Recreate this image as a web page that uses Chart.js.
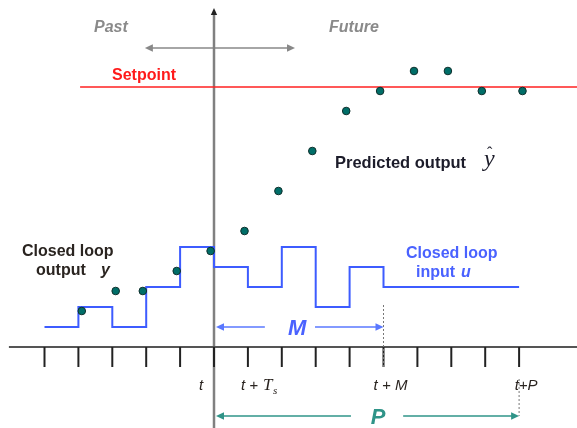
<!DOCTYPE html>
<html>
<head>
<meta charset="utf-8">
<script src="https://cdn.jsdelivr.net/npm/chart.js@4.4.1/dist/chart.umd.min.js"></script>
<style>
  body { margin: 0; background: #fff; }
  #wrap { width: 577px; height: 428px; }
</style>
</head>
<body>
<div id="wrap"><canvas id="mpc" width="577" height="428"></canvas></div>
<script>
// time steps (in sample periods, t = 0)
var tickSteps = [-5, -4, -3, -2, -1, 0, 1, 2, 3, 4, 5, 6, 7, 8, 9];
var tickLabels = ['t', 't +T', 't + M', 't+P'];
var tickLabelSteps = [0, 1, 5, 9];

// closed loop input u (step changes)
var inputSteps = [-5, -4, -3, -2, -1, 0, 1, 2, 3, 4, 5, 9];
var inputLevels = [1, 2, 1, 3, 5, 4, 3, 5, 2, 4, 3, 3];

// closed loop output y (past) and predicted output (future)
var outputSteps = [-3.9, -2.9, -2.1, -1.1, -0.1, 0.9, 1.9, 2.9, 3.9, 4.9, 5.9, 6.9, 7.9, 9.1];
var outputValues = [1.8, 2.8, 2.8, 3.8, 4.8, 5.8, 7.8, 9.8, 11.8, 12.8, 13.8, 13.8, 12.8, 12.8];

var setpointValue = 13;
var controlHorizon = 5;   // M
var predictionHorizon = 9; // P

function pairs (xs, ys) {
  var out = [];
  for (let i = 0; i < xs.length; i++) {
    out.push({ x: xs[i], y: ys[i] });
  }
  return out;
}

function arrowHead (ctx, x, y, dir, size, color) {
  ctx.fillStyle = color;
  ctx.beginPath();
  if (dir === 'left') {
    ctx.moveTo(x, y); ctx.lineTo(x + size, y - size / 2.2); ctx.lineTo(x + size, y + size / 2.2);
  } else if (dir === 'right') {
    ctx.moveTo(x, y); ctx.lineTo(x - size, y - size / 2.2); ctx.lineTo(x - size, y + size / 2.2);
  } else {
    ctx.moveTo(x, y); ctx.lineTo(x - size / 2.2, y + size); ctx.lineTo(x + size / 2.2, y + size);
  }
  ctx.closePath();
  ctx.fill();
}

var extras = {
  id: 'extras',
  afterDatasetsDraw: function (chart) {
    const ctx = chart.ctx;
    const xs = chart.scales.x;
    const ys = chart.scales.y;
    const px = function (v) { return xs.getPixelForValue(v); };
    const py = function (v) { return ys.getPixelForValue(v); };
    ctx.save();

    // tick marks
    ctx.strokeStyle = '#222';
    ctx.lineWidth = 2;
    for (let i = 0; i < tickSteps.length; i++) {
      ctx.beginPath();
      ctx.moveTo(px(tickSteps[i]), py(0));
      ctx.lineTo(px(tickSteps[i]), py(-1));
      ctx.stroke();
    }

    // dashed guides at t+M and t+P
    ctx.setLineDash([2, 2]);
    ctx.strokeStyle = '#777';
    ctx.lineWidth = 1;
    ctx.beginPath();
    ctx.moveTo(px(controlHorizon), py(2.1)); ctx.lineTo(px(controlHorizon), py(-1.05));
    ctx.moveTo(px(predictionHorizon), py(-1.6)); ctx.lineTo(px(predictionHorizon), py(-3.45));
    ctx.stroke();
    ctx.setLineDash([]);

    // arrow heads
    arrowHead(ctx, px(0), 8, 'up', 7, '#222');
    arrowHead(ctx, px(-2.04), py(14.95), 'left', 8, '#888');
    arrowHead(ctx, px(2.39), py(14.95), 'right', 8, '#888');
    arrowHead(ctx, px(0) + 2, py(1), 'left', 8, '#5a78ff');
    arrowHead(ctx, px(controlHorizon), py(1), 'right', 8, '#5a78ff');
    arrowHead(ctx, px(0) + 2, py(-3.45), 'left', 8, '#2f9488');
    arrowHead(ctx, px(predictionHorizon), py(-3.45), 'right', 8, '#2f9488');

    // texts
    ctx.textBaseline = 'alphabetic';
    ctx.textAlign = 'left';
    ctx.fillStyle = '#8a8a8a';
    ctx.font = 'italic bold 16px "Liberation Sans"';
    ctx.fillText('Past', 94, 32);
    ctx.fillText('Future', 329, 32);

    ctx.fillStyle = '#ff1a1a';
    ctx.font = 'bold 16px "Liberation Sans"';
    ctx.fillText('Setpoint', 112, 80);

    ctx.fillStyle = '#1c1c2a';
    ctx.font = 'bold 16.5px "Liberation Sans"';
    ctx.fillText('Predicted output', 335, 168);
    ctx.font = 'italic 24px "Liberation Serif"';
    ctx.fillText('y', 484, 166);
    ctx.font = '16px "Liberation Serif"';
    ctx.fillText('\u02c6', 487, 158);

    ctx.fillStyle = '#2a2420';
    ctx.font = 'bold 16px "Liberation Sans"';
    ctx.fillText('Closed loop', 22, 256);
    ctx.fillText('output', 36, 275);
    ctx.font = 'italic bold 16px "Liberation Sans"';
    ctx.fillText('y', 101, 275);

    ctx.fillStyle = '#4a62ff';
    ctx.font = 'bold 16px "Liberation Sans"';
    ctx.fillText('Closed loop', 406, 258);
    ctx.fillText('input', 416, 277);
    ctx.font = 'italic bold 16px "Liberation Sans"';
    ctx.fillText('u', 461, 277);

    ctx.fillStyle = '#4a62ff';
    ctx.font = 'italic bold 22px "Liberation Sans"';
    ctx.textAlign = 'center';
    ctx.fillText('M', px(2.45), py(1) + 8);
    ctx.fillStyle = '#2f9488';
    ctx.fillText('P', px(4.84), py(-3.45) + 8);

    // tick labels
    ctx.fillStyle = '#2a2420';
    ctx.font = 'italic 15px "Liberation Sans"';
    ctx.textAlign = 'center';
    ctx.fillText(tickLabels[0], px(tickLabelSteps[0]) - 13, 390);
    ctx.textAlign = 'left';
    ctx.fillText('t +', px(tickLabelSteps[1]) - 7, 390);
    ctx.font = 'italic 17px "Liberation Serif"';
    ctx.fillText('T', px(tickLabelSteps[1]) + 15, 390);
    ctx.font = 'italic 11px "Liberation Serif"';
    ctx.fillText('s', px(tickLabelSteps[1]) + 25, 394);
    ctx.font = 'italic 15px "Liberation Sans"';
    ctx.textAlign = 'center';
    ctx.fillText(tickLabels[2], px(tickLabelSteps[2]) + 7, 390);
    ctx.fillText(tickLabels[3], px(tickLabelSteps[3]) + 7, 390);

    ctx.restore();
  }
};

var lineDefaults = { showLine: true, pointRadius: 0, fill: false, tension: 0 };

new Chart(document.getElementById('mpc'), {
  type: 'scatter',
  data: {
    datasets: [
      {
        label: 'Output',
        data: pairs(outputSteps, outputValues),
        pointRadius: 3.8,
        pointBackgroundColor: '#006e68',
        pointBorderColor: '#0f2f2c',
        pointBorderWidth: 1,
        showLine: false,
        order: 0
      },
      Object.assign({
        label: 'Input',
        data: pairs(inputSteps, inputLevels),
        stepped: true,
        borderColor: '#3d5cff',
        borderWidth: 2,
        order: 1
      }, lineDefaults),
      Object.assign({
        label: 'Setpoint',
        data: [{ x: -3.95, y: setpointValue }, { x: 10.8, y: setpointValue }],
        borderColor: '#ff2020',
        borderWidth: 1.6,
        order: 2
      }, lineDefaults),
      Object.assign({
        label: 'Time axis',
        data: [{ x: -6.05, y: 0 }, { x: 10.8, y: 0 }],
        borderColor: '#555',
        borderWidth: 2,
        order: 3
      }, lineDefaults),
      Object.assign({
        label: 'Now',
        data: [{ x: 0, y: 16.7 }, { x: 0, y: -4.1 }],
        borderColor: '#808080',
        borderWidth: 2.5,
        order: 4
      }, lineDefaults),
      Object.assign({
        label: 'Past/Future',
        data: [{ x: -1.9, y: 14.95 }, { x: 2.25, y: 14.95 }],
        borderColor: '#888',
        borderWidth: 1.5,
        order: 5
      }, lineDefaults),
      Object.assign({
        label: 'M left',
        data: [{ x: 0.2, y: 1 }, { x: 1.5, y: 1 }],
        borderColor: '#5a78ff',
        borderWidth: 1.3,
        order: 6
      }, lineDefaults),
      Object.assign({
        label: 'M right',
        data: [{ x: 2.98, y: 1 }, { x: 4.85, y: 1 }],
        borderColor: '#5a78ff',
        borderWidth: 1.3,
        order: 7
      }, lineDefaults),
      Object.assign({
        label: 'P left',
        data: [{ x: 0.2, y: -3.45 }, { x: 4.04, y: -3.45 }],
        borderColor: '#2f9488',
        borderWidth: 1.3,
        order: 8
      }, lineDefaults),
      Object.assign({
        label: 'P right',
        data: [{ x: 5.58, y: -3.45 }, { x: 8.85, y: -3.45 }],
        borderColor: '#2f9488',
        borderWidth: 1.3,
        order: 9
      }, lineDefaults)
    ]
  },
  options: {
    responsive: false,
    animation: false,
    layout: { padding: 0, autoPadding: false },
    plugins: { legend: { display: false }, tooltip: { enabled: false } },
    scales: {
      x: { type: 'linear', display: false, min: -214 / 33.9, max: (577 - 214) / 33.9 },
      y: { type: 'linear', display: false, min: (347 - 428) / 20, max: 347 / 20 }
    }
  },
  plugins: [extras]
});
</script>
</body>
</html>
